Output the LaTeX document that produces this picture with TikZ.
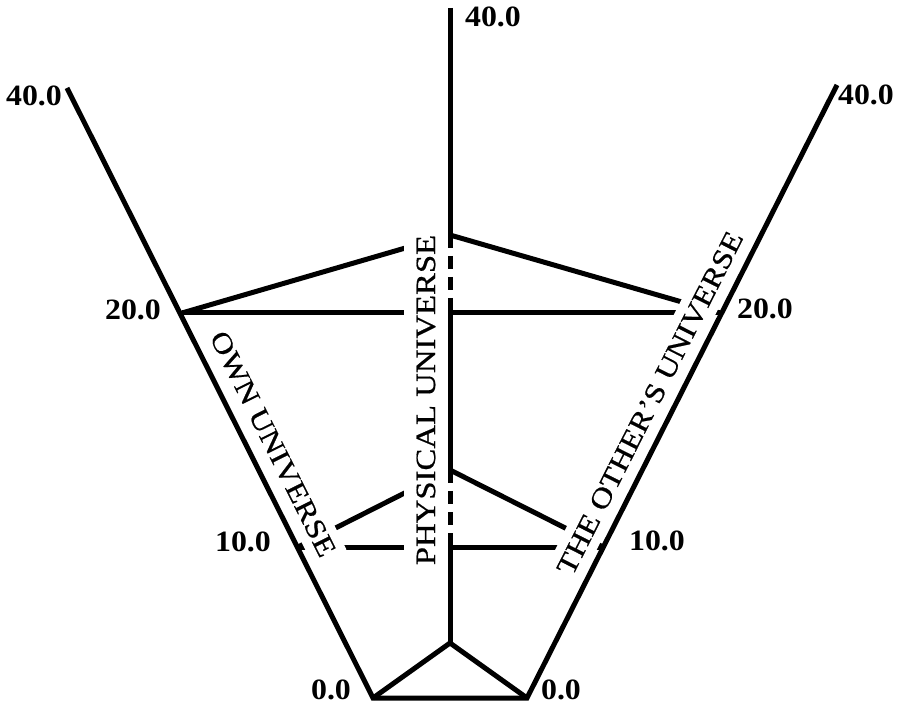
\documentclass[tikz,border=0pt]{standalone}
\usepackage{fontspec}
\setmainfont{Liberation Serif}
\newfontfamily\numfont[FakeStretch=1.08]{Liberation Serif}
\newfontfamily\axfont[FakeStretch=1.17,FakeBold=0.6]{Liberation Serif}
\begin{document}
\begin{tikzpicture}[x=1pt,y=-1pt,
  ln/.style={line width=5pt},
  dsh/.style={line width=5pt,dash pattern=on 13pt off 8pt},
  num/.style={font=\numfont\bfseries\fontsize{29.5}{30}\selectfont, inner sep=0pt},
  ax/.style={font=\axfont\fontsize{28}{30}\selectfont, fill=white, inner xsep=3pt, inner ysep=9pt}]
\useasboundingbox (0,0) rectangle (900,708);
% axis points
\coordinate (L0) at (373,698);
\coordinate (L10) at (298,547);
\coordinate (L20) at (182,313);
\coordinate (L40) at (67,88);
\coordinate (R0) at (527,698);
\coordinate (R10) at (603,547);
\coordinate (R20) at (720,313);
\coordinate (R40) at (837,85);
\coordinate (C0) at (450,643);
\coordinate (C10) at (450,547);
\coordinate (C10s) at (450,470);
\coordinate (C20) at (450,313);
\coordinate (C20s) at (450,235);
\coordinate (C40) at (450,8);
% level lines
\draw[ln] (L10) -- (R10);
\draw[ln] (L20) -- (R20);
\draw[ln] (L10) -- (C10s) -- (R10);
\draw[ln] (L20) -- (C20s) -- (R20);
% axis labels (white boxes interrupt the level lines)
\node[ax, rotate=-63.4] (own) at (273,444) {OWN UNIVERSE};
\node[ax, rotate=63.2] (oth) at (650,403) {THE OTHER’S UNIVERSE};
\node[ax, rotate=90, inner ysep=12.75pt] (phy) at (426,400) {PHYSICAL UNIVERSE};
% axes
\draw[ln] (L40) -- (L0) -- (R0) -- (R40);
\draw[ln] (L0) -- (C0) -- (R0);
\draw[ln] (C40) -- (C20s);
\draw[dsh] (C20s) -- (C20);
\draw[ln] (C20) -- (C10s);
\draw[dsh] (C10s) -- (C10);
\draw[ln] (C10) -- (C0);
% scale values
\node[num] (n40l) at (34,96) {40.0};
\node[num] (n40c) at (493,17) {40.0};
\node[num] (n40r) at (866,95) {40.0};
\node[num] (n20l) at (133,310) {20.0};
\node[num] (n20r) at (765,309) {20.0};
\node[num] (n10l) at (243,542) {10.0};
\node[num] (n10r) at (657,541) {10.0};
\node[num] (n0l) at (331,690) {0.0};
\node[num] (n0r) at (561,690) {0.0};
\end{tikzpicture}
\end{document}
